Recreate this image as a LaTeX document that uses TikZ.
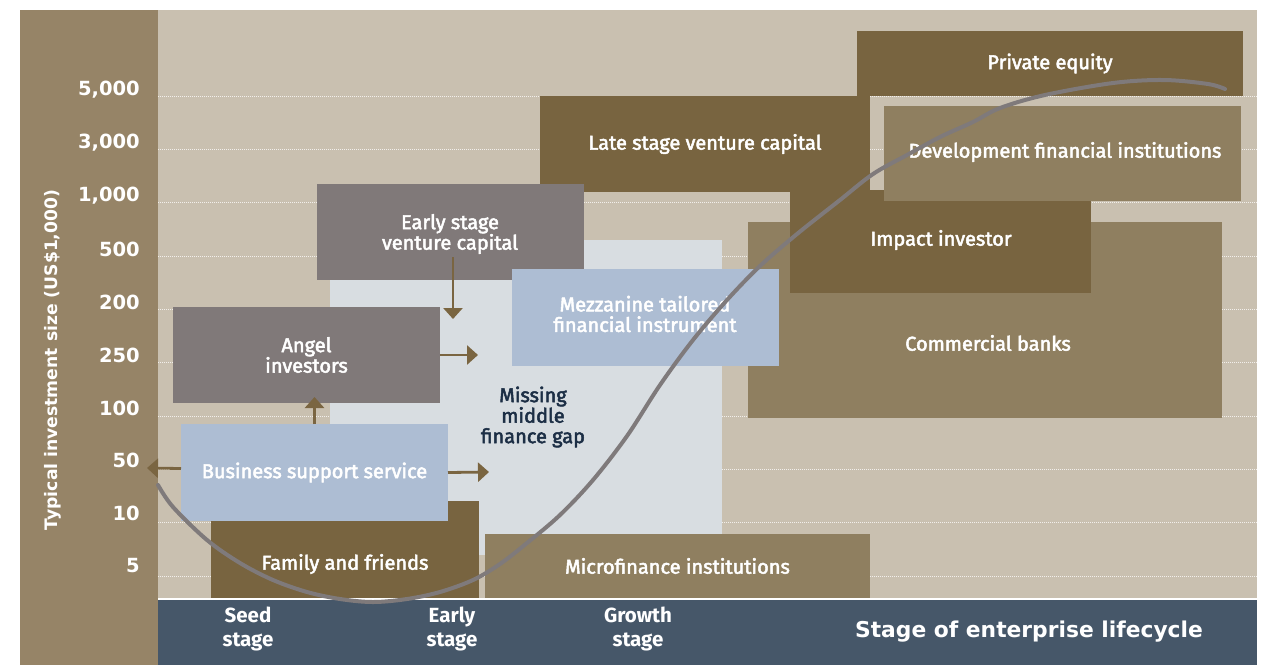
\documentclass[tikz,border=0pt]{standalone}
\usepackage{fontspec}
\setmainfont{Fira Sans}
\newfontfamily\axfont{DejaVu Sans}
\newfontfamily\boxfont{Fira Sans}[FakeBold=2.5]
\usetikzlibrary{arrows.meta}
\definecolor{panel}{HTML}{968467}
\definecolor{chartbg}{HTML}{C9C0B0}
\definecolor{darkbrown}{HTML}{786440}
\definecolor{midbrown}{HTML}{8F7F60}
\definecolor{greybox}{HTML}{807979}
\definecolor{lightblue}{HTML}{ADBDD3}
\definecolor{gapgrey}{HTML}{D8DDE1}
\definecolor{band}{HTML}{465769}
\definecolor{curvec}{HTML}{7F7A7B}
\definecolor{arrowc}{HTML}{7A6541}
\definecolor{navytext}{HTML}{1C2E45}
\begin{document}
\begin{tikzpicture}[x=1pt,y=-1pt,
  box/.style={draw=none,inner sep=0pt,outer sep=0pt,anchor=north west,text=white,align=center,
    font=\boxfont\fontsize{20}{20.5}\selectfont},
  lbl/.style={inner sep=0pt,text=white,align=center,font=\boxfont\fontsize{20}{20.5}\selectfont},
  tick/.style={inner sep=0pt,text=white,anchor=east,font=\axfont\bfseries\fontsize{19.5}{20}\selectfont},
  stagelbl/.style={inner sep=0pt,text=white,align=center,font=\bfseries\fontsize{20.5}{24}\selectfont},
  gridline/.style={draw=white!75!chartbg,line width=0.8pt,dash pattern=on 1pt off 1pt},
  flow/.style={draw=arrowc,line width=2.8pt,-{Triangle[length=11pt,width=19pt]}},
  scurve/.style={draw=curvec,line width=4pt,line cap=round}]
\fill[white] (0,0) rectangle (1271,665);
\useasboundingbox (0,0) rectangle (1271,665);
% panels
\fill[panel] (20,10) rectangle (158,665);
\fill[chartbg] (158,10) rectangle (1257,598);
\fill[band] (158,600) rectangle (1257,665);
% grid lines
\foreach \yy in {96,149,202,256,309,362,416,469,522,576}
  \draw[gridline] (158,\yy) -- (1257,\yy);
% missing middle region
\fill[gapgrey] (330,240) rectangle (722,555);
% y-axis
\node[tick] (t5000) at (140,90) {5,000};
\node[tick] (t3000) at (140,143) {3,000};
\node[tick] (t1000) at (140,196) {1,000};
\node[tick] (t500) at (140,249) {500};
\node[tick] (t200) at (140,302) {200};
\node[tick] (t250) at (140,355) {250};
\node[tick] (t100) at (140,408) {100};
\node[tick] (t50) at (140,460) {50};
\node[tick] (t10) at (140,513) {10};
\node[tick] (t5) at (140,566) {5};
\node[rotate=90,inner sep=0pt,text=white,font=\axfont\bfseries\fontsize{17.2}{20}\selectfont] (ytitle) at (53,360) {Typical investment size (US\$1,000)};
% boxes
\node[box,fill=darkbrown,minimum width=330pt,minimum height=96pt] (lvc) at (540,96) {Late stage venture capital};
\node[box,fill=darkbrown,minimum width=386pt,minimum height=65pt] (pe) at (857,31) {Private equity};
\node[box,fill=midbrown,minimum width=474pt,minimum height=196pt] (cb) at (748,222) {};
\node[box,fill=darkbrown,minimum width=301pt,minimum height=103pt] (imp) at (790,190) {};
\node[box,fill=midbrown,minimum width=357pt,minimum height=95pt] (dfi) at (884,106) {};
\node[box,fill=greybox,minimum width=267pt,minimum height=96pt] (evc) at (317,184) {};
\node[box,fill=lightblue,minimum width=267pt,minimum height=97pt] (mez) at (512,269) {};
\node[box,fill=greybox,minimum width=267pt,minimum height=96pt] (angel) at (173,307) {Angel\\investors};
\node[box,fill=darkbrown,minimum width=268pt,minimum height=97pt] (ff) at (211,501) {};
\node[box,fill=lightblue,minimum width=267pt,minimum height=97pt] (bss) at (181,424) {Business support service};
\node[box,fill=midbrown,minimum width=385pt,minimum height=64pt] (mfi) at (485,534) {Microfinance institutions};
\node[lbl] (dfitext) at (1065,152) {Development financial institutions};
\node[lbl] (imptext) at (941,240) {Impact investor};
\node[lbl] (evctext) at (450,234) {Early stage\\venture capital};
\node[lbl] (meztext) at (645,314) {Mezzanine tailored\\financial instrument};
\node[lbl] (cbtext) at (988,343) {Commercial banks};
\node[lbl] (fftext) at (345,564) {Family and friends};
\node[lbl,text=navytext] (gap) at (533,417) {Missing\\middle\\finance gap};
% arrows
\coordinate (evcEnd) at (453,319);
\coordinate (angelEnd) at (478,355);
\coordinate (bssUp) at (314.5,397);
\coordinate (bssR) at (489,472);
\coordinate (bssL) at (147,468);
\draw[flow] ([xshift=2.5pt,yshift=23pt]evc.south) -- (evcEnd);
\draw[flow] (angel.east) -- (angelEnd);
\draw[flow] (bss.north) -- (bssUp);
\draw[flow] (bss.east) -- (bssR);
\draw[flow] ([yshift=4pt]bss.west) -- (bssL);
% stage labels
\node[stagelbl] (seed) at (248,629) {Seed\\stage};
\node[stagelbl] (early) at (452,629) {Early\\stage};
\node[stagelbl] (growth) at (638,629) {Growth\\stage};
\node[inner sep=0pt,text=white,font=\axfont\bfseries\fontsize{21.8}{26}\selectfont] (xtitle) at (1029,632) {Stage of enterprise lifecycle};
% S-curve
\draw[scurve] plot[smooth,tension=0.55] coordinates {(158,485) (173,507) (207,540) (240,563) (273,580) (307,592) (340,599) (373,602) (407,599) (440,592) (473,580) (500,564) (527,543) (560,515) (593,480) (627,436) (660,385) (693,340) (727,300) (760,266) (797,234) (840,200) (873,174) (907,155) (940,137) (973,122) (1000,108) (1045,95) (1113,83) (1164,80) (1208,84) (1225,89)};
\end{tikzpicture}
\end{document}
